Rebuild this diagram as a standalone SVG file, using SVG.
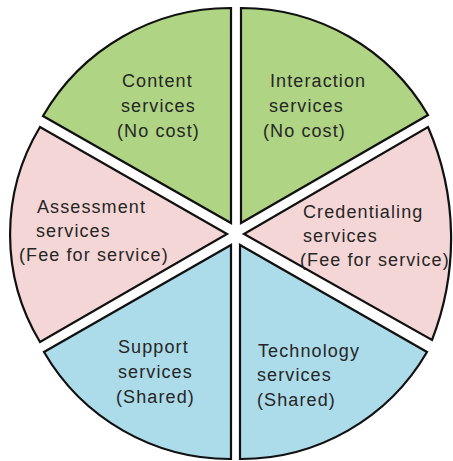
<svg xmlns="http://www.w3.org/2000/svg" width="453" height="461" viewBox="0 0 453 461">
<style>
.w{stroke:#111;stroke-width:2.2;stroke-linejoin:miter}
.g{fill:#aed484}
.p{fill:#f5d6d6}
.b{fill:#acdbe9}
text{font-family:"Liberation Sans",Arial,sans-serif;font-size:18px;letter-spacing:1.1px;fill:#262626}
</style>
<rect width="453" height="461" fill="#ffffff"/>
<g id="content">
<path class="w g" d="M231,223 L231,8 A216,216 0 0,0 43,116 Z"/>
<text x="122" y="87">Content</text>
<text x="121" y="112">services</text>
<text x="117" y="137">(No cost)</text>
</g>
<g id="interaction">
<path class="w g" d="M241,223 L241,8 A216,216 0 0,1 428,115 Z"/>
<text x="270" y="87">Interaction</text>
<text x="269" y="112">services</text>
<text x="263" y="137">(No cost)</text>
</g>
<g id="assessment">
<path class="w p" d="M227,234 L40,127 A208,208 0 0,0 40,342 Z"/>
<text x="37" y="213">Assessment</text>
<text x="36" y="237">services</text>
<text x="19" y="261">(Fee for service)</text>
</g>
<g id="credentialing">
<path class="w p" d="M244,234 L428,127 A280,280 0 0,1 432,340 Z"/>
<text x="303" y="218">Credentialing</text>
<text x="303" y="242">services</text>
<text x="300" y="266">(Fee for service)</text>
</g>
<g id="support">
<path class="w b" d="M231,245 L231,459 A215,215 0 0,1 44,352 Z"/>
<text x="118" y="353">Support</text>
<text x="118" y="378">services</text>
<text x="116" y="403">(Shared)</text>
</g>
<g id="technology">
<path class="w b" d="M240,245 L240,459 A215,215 0 0,0 427,352 Z"/>
<text x="258" y="357">Technology</text>
<text x="257" y="381">services</text>
<text x="257" y="406">(Shared)</text>
</g>
<g id="connectors"></g>
</svg>
